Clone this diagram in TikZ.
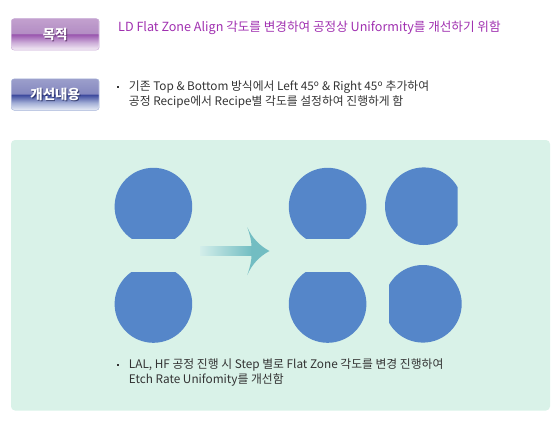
\documentclass[tikz,border=0pt]{standalone}
\usepackage{fontspec}
\setmainfont{Noto Sans CJK KR}
\definecolor{bgbox}{HTML}{D9F2E8}
\definecolor{wafer}{HTML}{5586C9}
\definecolor{teal}{HTML}{72BDC2}
\definecolor{teallight}{HTML}{D3EEEA}
\definecolor{titlepurple}{HTML}{A030B0}
\definecolor{bodytext}{HTML}{333333}
\definecolor{pA1}{HTML}{BA94C8}
\definecolor{pA2}{HTML}{AA7EBC}
\definecolor{pA3}{HTML}{8A3CA2}
\definecolor{pA4}{HTML}{C4A0D2}
\definecolor{pA5}{HTML}{F5EEF8}
\definecolor{pAb}{HTML}{C8A8D6}
\definecolor{pAs}{HTML}{4A1E58}
\definecolor{bB1}{HTML}{9C9FCC}
\definecolor{bB2}{HTML}{8689C0}
\definecolor{bB3}{HTML}{3A479C}
\definecolor{bB4}{HTML}{A2AED6}
\definecolor{bB5}{HTML}{EDF1F9}
\definecolor{bBb}{HTML}{A4B2D8}
\definecolor{bBs}{HTML}{1E2658}
\newcommand{\mybullet}{\raisebox{3pt}{\rule{2.2pt}{2.2pt}}}
% #1..#5: gradient colours, #6 shadow colour, #7 text
\newcommand{\badgefill}[7]{%
  \foreach \i in {0,...,15}{%
    \pgfmathsetmacro{\p}{100-\i*100/15}%
    \fill[#1!\p!#2] ([shift={(-46,\i-16)}]path picture bounding box.center) rectangle ([shift={(46,\i-14.8)}]path picture bounding box.center);}%
  \foreach \i in {0,...,7}{%
    \pgfmathsetmacro{\p}{100-\i*12.5}%
    \fill[#3!\p!#4] ([shift={(-46,\i)}]path picture bounding box.center) rectangle ([shift={(46,\i+1.2)}]path picture bounding box.center);}%
  \foreach \i in {8,...,16}{%
    \pgfmathsetmacro{\p}{100-(\i-8)*12.5}%
    \fill[#4!\p!#5] ([shift={(-46,\i)}]path picture bounding box.center) rectangle ([shift={(46,\i+1.2)}]path picture bounding box.center);}%
  \node[text=#6, opacity=0.75, font=\bfseries\fontsize{13.5}{14}\selectfont] at ([shift={(0.9,0.9)}]path picture bounding box.center) {#7};%
}
\begin{document}
\begin{tikzpicture}[x=1pt,y=-1pt,
  badgebase/.style={rounded corners=3pt, minimum width=88pt, minimum height=31.5pt,
    inner sep=0pt, text=white, font=\bfseries\fontsize{13.5}{14}\selectfont},
  badgepurple/.style={badgebase, draw=pAb, path picture={\badgefill{pA1}{pA2}{pA3}{pA4}{pA5}{pAs}{#1}}},
  badgeblue/.style={badgebase, draw=bBb, path picture={\badgefill{bB1}{bB2}{bB3}{bB4}{bB5}{bBs}{#1}}},
  titletext/.style={anchor=west, inner sep=0pt, text=titlepurple, font=\fontsize{12.6}{14}\selectfont},
  bodynode/.style={anchor=north west, inner sep=0pt, text=bodytext, align=left, font=\fontsize{11.8}{14.7}\selectfont},
  waferfill/.style={fill=wafer}
]
\useasboundingbox (0,0) rectangle (551,421);

% badges
\node[badgepurple={목적}] (goal) at (55.2,34.4) {목적};
\node[badgeblue={개선내용}] (improve) at (55.2,94.6) {개선내용};

% title
\node[titletext] (goaltext) at (118,27.5) {LD Flat Zone Align 각도를 변경하여 공정상 Uniformity를 개선하기 위함};

% improvement text
\node[bodynode] (improvetext) at (116.5,81) {\mybullet\hspace{10pt}기존 Top \& Bottom 방식에서 Left 45\textsuperscript{o} \& Right 45\textsuperscript{o} 추가하여\\
\hspace{12.2pt}공정 Recipe에서 Recipe별 각도를 설정하여 진행하게 함};

% green panel
\fill[bgbox, rounded corners=4pt] (11,140) rectangle (550,410.5);

% left wafers
\begin{scope}
  \clip (110,160) rectangle (200,238.3);
  \fill[waferfill] (153.4,206.6) circle (38.8);
\end{scope}
\begin{scope}
  \clip (110,272) rectangle (200,350);
  \fill[waferfill] (153.4,304) circle (38.8);
\end{scope}

% right wafers column 1
\begin{scope}
  \clip (280,160) rectangle (380,238.3);
  \fill[waferfill] (327.6,206.6) circle (38.8);
\end{scope}
\begin{scope}
  \clip (280,272) rectangle (380,350);
  \fill[waferfill] (327.6,304) circle (38.8);
\end{scope}

% right wafers column 2
\begin{scope}
  \clip (380,160) rectangle (457.7,250);
  \fill[waferfill] (423.8,206.2) circle (38.8);
\end{scope}
\begin{scope}
  \clip (389,260) rectangle (470,350);
  \fill[waferfill] (422.9,303.8) circle (38.8);
\end{scope}

% arrow
\shade[left color=teallight, right color=teal] (200,246.8) rectangle (252,255.2);
\fill[teal] (247.3,227.3) .. controls (252,238) and (260,246) .. (269.5,251)
  .. controls (260,256) and (252,264) .. (247.3,275)
  .. controls (250,267) and (251.5,261) .. (251.5,255.2) -- (251.5,246.8)
  .. controls (251.5,241) and (250,235) .. (247.3,227.3) -- cycle;

% bottom text
\node[bodynode] (resulttext) at (116.5,359) {\mybullet\hspace{10pt}LAL, HF 공정 진행 시 Step 별로 Flat Zone 각도를 변경 진행하여\\
\hspace{12.2pt}Etch Rate Unifomity를 개선함};
\end{tikzpicture}
\end{document}
